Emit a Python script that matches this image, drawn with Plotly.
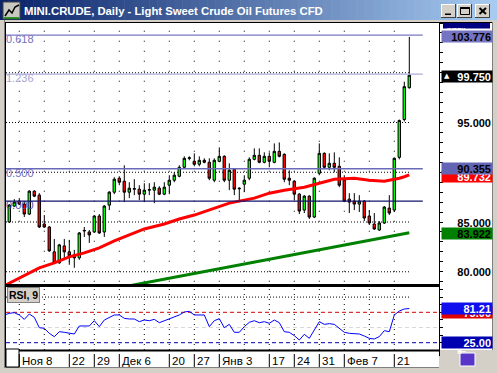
import plotly.graph_objects as go
import pandas as pd

W, H = 497, 373

# ---------------- data ----------------
dates = pd.bdate_range("2010-11-04", "2011-02-24")          # 81 daily sessions
bar_index = list(range(1, len(dates) + 1))

opens = [85.0, 86.6, 87.1, 86.8, 85.8, 88.1, 87.7, 84.8, 84.5, 82.0,
         80.9, 82.6, 82.0, 81.7, 81.4, 84.1, 84.0, 84.0, 85.6, 84.0,
         86.7, 88.0, 89.4, 89.1, 88.0, 88.3, 88.3, 87.8, 88.2, 88.2,
         88.4, 87.8, 88.7, 89.2, 89.6, 90.5, 91.4, 91.1, 90.8, 91.2,
         91.0, 89.2, 91.1, 91.6, 89.2, 90.3, 88.4, 88.8, 89.4, 91.3,
         91.7, 91.0, 91.6, 91.0, 92.1, 91.8, 89.4, 89.1, 87.8, 86.2,
         87.6, 85.5, 89.9, 91.9, 90.5, 90.9, 90.6, 89.2, 87.3, 87.1,
         86.8, 87.1, 85.6, 84.8, 84.2, 84.9, 86.4, 86.2, 91.5, 95.3,
         98.5]
highs = [86.8, 87.3, 87.4, 87.0, 88.2, 88.2, 87.9, 85.7, 84.6, 83.3,
         82.8, 83.3, 83.2, 82.2, 84.0, 84.5, 84.2, 85.7, 85.8, 86.7,
         88.1, 89.5, 89.6, 90.7, 89.0, 89.3, 88.7, 88.9, 88.9, 89.0,
         88.6, 89.0, 89.7, 90.0, 90.7, 91.6, 91.6, 91.9, 91.6, 91.4,
         91.4, 91.4, 92.5, 91.7, 90.9, 90.4, 88.5, 89.7, 91.5, 92.4,
         92.4, 92.0, 92.0, 92.9, 93.0, 91.9, 90.2, 89.2, 87.9, 87.7,
         87.7, 89.5, 92.9, 92.0, 91.9, 92.0, 91.5, 89.7, 87.9, 87.9,
         87.7, 87.2, 86.2, 85.9, 85.1, 86.6, 87.7, 91.5, 95.3, 99.1,
         103.6]
lows = [84.9, 86.5, 86.7, 85.5, 85.7, 87.5, 84.4, 84.4, 82.0, 80.8,
        80.8, 81.2, 80.7, 80.4, 81.2, 83.5, 82.9, 83.9, 83.8, 83.5,
        86.2, 87.8, 88.7, 87.0, 87.4, 87.7, 87.2, 87.0, 87.7, 86.9,
        87.7, 87.7, 87.8, 89.0, 89.5, 90.4, 91.2, 90.6, 90.6, 90.9,
        89.2, 89.0, 91.0, 89.0, 88.2, 87.7, 87.0, 88.0, 89.2, 91.2,
        90.9, 90.9, 90.5, 90.9, 91.5, 89.0, 88.7, 87.2, 85.8, 85.9,
        85.3, 85.4, 89.7, 90.3, 90.2, 90.0, 88.5, 87.0, 85.9, 86.2,
        86.0, 85.1, 84.7, 84.2, 84.1, 84.8, 85.7, 86.0, 91.3, 95.1,
        98.4]
closes = [86.7, 87.0, 86.8, 85.8, 88.1, 87.6, 84.5, 84.5, 82.1, 80.9,
          82.7, 82.0, 81.6, 81.4, 83.9, 84.15, 83.7, 85.6, 83.9, 86.6,
          88.0, 89.3, 89.0, 88.0, 88.4, 88.35, 87.8, 88.2, 88.25, 88.5,
          87.8, 88.5, 89.2, 89.7, 90.5, 91.4, 91.45, 90.8, 91.2, 91.0,
          89.4, 91.2, 91.6, 89.2, 90.2, 88.3, 88.35, 89.2, 91.3, 91.7,
          91.0, 91.6, 91.1, 92.1, 91.6, 89.3, 89.2, 87.8, 86.1, 87.6,
          85.5, 89.4, 91.9, 90.5, 90.9, 90.5, 88.7, 87.1, 87.0, 86.8,
          87.1, 85.4, 84.9, 84.3, 84.9, 86.5, 85.9, 91.4, 95.2, 98.6,
          99.75]

ma_index = [0, 3, 7, 10, 13, 16, 19, 22, 26, 28, 32, 35, 38, 42, 45,
            50, 53, 56, 60, 63, 66, 70, 73, 76, 78, 79, 80, 81]
ma_values = [78.6, 79.4, 80.4, 80.9, 81.5, 81.9, 82.4, 83.1, 83.9, 84.3,
             84.8, 85.3, 85.7, 86.4, 86.9, 87.4, 87.9, 88.2, 88.5, 88.9,
             89.3, 89.4, 89.2, 89.1, 89.25, 89.4, 89.55, 89.732]

trend_index = [23, 81]
trend_values = [78.40, 83.922]

rsi_index = list(range(0, 82))
rsi_values = [70.6, 73.3, 74.4, 70.6, 63.4, 72.2, 66.7, 49.7, 48.6, 40.4,
              34.9, 43.1, 42.1, 40.4, 39.3, 52.5, 53.0, 52.5, 61.2, 51.4,
              62.3, 66.7, 70.6, 70.6, 65.1, 64.0, 64.0, 59.6, 62.3, 61.2,
              63.4, 57.9, 61.2, 64.5, 67.3, 70.6, 75.5, 76.6, 70.6, 71.1,
              70.6, 51.4, 61.2, 64.5, 49.7, 55.2, 42.1, 42.1, 51.4, 58.5,
              61.2, 57.9, 59.6, 56.9, 62.3, 57.9, 43.1, 42.1, 36.6, 29.4,
              38.8, 32.2, 47.0, 59.6, 55.2, 56.3, 55.2, 48.6, 42.1, 40.4,
              40.4, 39.3, 36.0, 32.2, 31.1, 35.0, 44.8, 43.1, 70.6, 77.1,
              80.4, 81.21]
rsi_upper, rsi_mid, rsi_lower = 75.0, 50.0, 25.0

fib_labels = ["0.618", "1.236", "0.500", "0.000"]
fib_levels = [103.776, 99.87, 90.355, 87.10]

week_ticks = [3, 13, 18, 23, 33, 38, 43, 53, 58, 63, 68, 78]
week_labels = ["Ноя 8", "22", "29", "Дек 6", "20", "27", "Янв 3",
               "17", "24", "31", "Фев 7", "21"]
grid_weeks = list(range(3, 79, 5))

price_ticks = [80, 85, 95]
grid_prices = [80, 85, 90, 95, 100]

title_text = "MINI.CRUDE, Daily - Light Sweet Crude Oil Futures CFD"

# ---------------- geometry helpers ----------------
def px(x):
    return x / W

def py(y):
    return 1 - y / H

X_RANGE = [0.34, 86.94]
Y_RANGE = [78.67, 105.0]
R_RANGE = [13.0, 116.6]
GRAY = "#d4d0c8"
FONT = "Liberation Sans"

shapes = []
annotations = []

def prect(x0, y0, x1, y1, fill=None, line=None, lw=1, layer="above"):
    shapes.append(dict(type="rect", xref="paper", yref="paper",
                       x0=px(x0), x1=px(x1), y0=py(y1), y1=py(y0),
                       fillcolor=fill if fill else "rgba(0,0,0,0)",
                       line=dict(color=line if line else "rgba(0,0,0,0)", width=lw if line else 0),
                       layer=layer))

def pline(x0, y0, x1, y1, color="black", w=1, layer="above"):
    shapes.append(dict(type="line", xref="paper", yref="paper",
                       x0=px(x0), x1=px(x1), y0=py(y0), y1=py(y1),
                       line=dict(color=color, width=w), layer=layer))

# window background regions
prect(6, 23, 492, 350, fill="white", layer="below")
prect(19, 351, 439, 367, fill="white", layer="below")

# title bar gradient
n = 60
c0, c1 = (10, 36, 106), (166, 202, 240)
for i in range(n):
    t = i / (n - 1)
    col = "rgb(%d,%d,%d)" % tuple(int(a + (b - a) * t) for a, b in zip(c0, c1))
    prect(i * W / n, 0, (i + 1) * W / n + 0.5, 20, fill=col)

# icon
prect(3, 2, 20, 19, fill="#c8c8c0", line="#404040")
shapes.append(dict(type="path", xref="paper", yref="paper",
                   path="M %f %f L %f %f L %f %f L %f %f L %f %f" % (
                       px(5), py(16), px(9), py(10), px(12), py(13), px(15), py(7), px(19), py(5)),
                   line=dict(color="black", width=1.5)))
pline(4, 18, 19, 18, color="#008000", w=1.5)

# window buttons
for bx0, bx1 in [(441, 456), (457, 472), (475, 490)]:
    prect(bx0, 4, bx1, 18, fill=GRAY)
    pline(bx0, 4.5, bx1, 4.5, color="white")
    pline(bx0 + 0.5, 4, bx0 + 0.5, 18, color="white")
    pline(bx0, 17.5, bx1, 17.5, color="#404040")
    pline(bx1 - 0.5, 4, bx1 - 0.5, 18, color="#404040")
prect(445, 13.5, 451, 15, fill="black")
prect(460.5, 7.5, 469.5, 14.5, line="black", lw=1)
pline(460.5, 8, 469.5, 8, color="black", w=2)
pline(479.5, 8, 486, 14, color="black", w=2)
pline(479.5, 14, 486, 8, color="black", w=2)

# frame lines
pline(4.5, 20, 4.5, 368, color="#808080")
pline(5.5, 22, 5.5, 368, color="black")
pline(5, 22.5, 492, 22.5, color="black")
pline(492.5, 22, 492.5, 350, color="#808080")
prect(5, 284, 439, 287, fill="black")
pline(5, 350.5, 439, 350.5, color="black", w=2)
pline(439.5, 22, 439.5, 356, color="black")
pline(5, 367.5, 439, 367.5, color="#808080")
prect(6, 349, 19, 367, fill="white", line="black")

# INDEX header
prect(443, 23, 490, 28.5, fill="#000080")
annotations.append(dict(x=px(466), y=py(25.6), xref="paper", yref="paper", text="<b>INDEX</b>",
                        showarrow=False, font=dict(family=FONT, size=6, color="white"),
                        borderpad=0, height=6))

# bottom-right button
prect(460, 353, 475, 366, fill="#5a36c8", line="white")
annotations.append(dict(x=px(467.5), y=py(359.5), xref="paper", yref="paper", text="⇤",
                        showarrow=False, font=dict(family="DejaVu Sans", size=11, color="white")))

# ---------------- grid (only up to last bar) ----------------
last_bar = bar_index[-1]
for k in grid_weeks:
    shapes.append(dict(type="line", xref="x", yref="y", x0=k, x1=k, y0=79, y1=Y_RANGE[1],
                       line=dict(color="black", width=1, dash="1px,9px"), layer="below"))
    shapes.append(dict(type="line", xref="x2", yref="y2", x0=k, x1=k, y0=R_RANGE[0], y1=R_RANGE[1],
                       line=dict(color="black", width=1, dash="1px,4px"), layer="below"))
for p in grid_prices:
    shapes.append(dict(type="line", xref="x", yref="y", x0=X_RANGE[0], x1=last_bar, y0=p, y1=p,
                       line=dict(color="black", width=1, dash="1px,2px"), layer="below"))
shapes.append(dict(type="line", xref="x2", yref="y2", x0=X_RANGE[0], x1=last_bar, y0=100, y1=100,
                   line=dict(color="black", width=1, dash="1px,2px"), layer="below"))

# fib lines
fib_line_colors = ["#7878c0", "#ababda", "#6a6ab8", "#14146e"]
fib_text_colors = ["#7272b8", "#a6a6cc", "#7070bc", "#5050a8"]
for lvl, col in zip(fib_levels, fib_line_colors):
    shapes.append(dict(type="line", xref="x", yref="y", x0=X_RANGE[0], x1=83.7, y0=lvl, y1=lvl,
                       line=dict(color=col, width=1.3), layer="above"))

# RSI reference lines
shapes.append(dict(type="line", xref="x2", yref="y2", x0=X_RANGE[0], x1=X_RANGE[1], y0=rsi_mid, y1=rsi_mid,
                   line=dict(color="#d8d8d8", width=1, dash="4px,3px"), layer="below"))
shapes.append(dict(type="line", xref="x2", yref="y2", x0=X_RANGE[0], x1=X_RANGE[1], y0=rsi_upper, y1=rsi_upper,
                   line=dict(color="#d00000", width=1, dash="4px,3px"), layer="below"))
shapes.append(dict(type="line", xref="x2", yref="y2", x0=X_RANGE[0], x1=X_RANGE[1], y0=rsi_lower, y1=rsi_lower,
                   line=dict(color="#0000a8", width=1, dash="4px,3px"), layer="below"))

# ---------------- traces ----------------
fig = go.Figure()

for lab, lvl, col in zip(fib_labels, fib_levels, fib_text_colors):
    fig.add_trace(go.Scatter(x=[X_RANGE[0]], y=[lvl], mode="text", text=[lab],
                             textposition="bottom right", textfont=dict(family=FONT, size=11, color=col),
                             hoverinfo="skip", showlegend=False, xaxis="x", yaxis="y"))

fig.add_trace(go.Candlestick(x=bar_index, open=opens, high=highs, low=lows, close=closes,
                             increasing=dict(line=dict(color="black", width=1), fillcolor="#00ff00"),
                             decreasing=dict(line=dict(color="black", width=1), fillcolor="#ff0000"),
                             whiskerwidth=0, showlegend=False, xaxis="x", yaxis="y"))

fig.add_trace(go.Scatter(x=ma_index, y=ma_values, mode="lines",
                         line=dict(color="#ff0000", width=3), showlegend=False, xaxis="x", yaxis="y"))
fig.add_trace(go.Scatter(x=trend_index, y=trend_values, mode="lines",
                         line=dict(color="#008000", width=3), showlegend=False, xaxis="x", yaxis="y"))

fig.add_trace(go.Scatter(x=rsi_index, y=rsi_values, mode="lines",
                         line=dict(color="#0000ff", width=1), showlegend=False, xaxis="x2", yaxis="y2"))

# ---------------- axis labels (right side) ----------------
def rlabel(val, yref, text, bg=None, fg="black", yshift=0):
    d = dict(x=px(441), xref="paper", xanchor="left", y=val, yref=yref, yanchor="middle",
             text="<b>%s</b>" % text, showarrow=False, width=48, height=9, align="right",
             font=dict(family=FONT, size=11, color=fg), borderpad=1, yshift=yshift)
    if bg:
        d["bgcolor"] = bg
    annotations.append(d)

for p in price_ticks:
    rlabel(p, "y", "%.3f" % p)
rlabel(103.776, "y", "103.776", bg="#7474c2", fg="black", yshift=-1)
rlabel(closes[-1], "y", "%.3f" % closes[-1], bg="black", fg="white", yshift=-1)
annotations.append(dict(x=px(442), xref="paper", xanchor="left", y=closes[-1], yref="y", yshift=-1,
                        text="▲", showarrow=False, font=dict(family="DejaVu Sans", size=7, color="white")))
rlabel(ma_values[-1], "y", "%.3f" % ma_values[-1], bg="#ff0000", fg="white", yshift=-2)
rlabel(90.355, "y", "90.355", bg="#6464b4", fg="black")
rlabel(trend_values[-1], "y", "%.3f" % trend_values[-1], bg="#008000", fg="black", yshift=-1)

rlabel(rsi_upper, "y2", "%.2f" % rsi_upper, bg="#e00000", fg="white")
rlabel(rsi_values[-1], "y2", "%.2f" % rsi_values[-1], bg="#1010ee", fg="white")
rlabel(rsi_lower, "y2", "%.2f" % rsi_lower, bg="#0000b0", fg="white")

# date labels & separators
for k, lab in zip(week_ticks, week_labels):
    annotations.append(dict(x=k, xref="x", xanchor="left", xshift=1, y=py(361), yref="paper",
                            yanchor="middle", text=lab, showarrow=False,
                            font=dict(family=FONT, size=11.5, color="black")))
    shapes.append(dict(type="line", xref="x", yref="paper", x0=k, x1=k, y0=py(367), y1=py(354),
                       line=dict(color="black", width=1)))

# title & RSI caption
annotations.append(dict(x=px(22), y=py(10.5), xref="paper", yref="paper", xanchor="left", yanchor="middle",
                        text="<b>%s</b>" % title_text, showarrow=False,
                        font=dict(family=FONT, size=11.3, color="white")))
annotations.append(dict(x=px(7), y=py(294.5), xref="paper", yref="paper", xanchor="left", yanchor="middle",
                        text="<b>RSI, 9</b>", showarrow=False, bgcolor=GRAY, bordercolor="#808080",
                        borderwidth=1, borderpad=1, font=dict(family=FONT, size=10.5, color="black")))

# ---------------- layout ----------------
fig.update_layout(
    width=W, height=H, margin=dict(l=0, r=0, t=0, b=0),
    paper_bgcolor=GRAY, plot_bgcolor="white",
    showlegend=False, hovermode=False,
    shapes=shapes, annotations=annotations,
    xaxis=dict(domain=[px(6), px(439)], range=X_RANGE, showgrid=False, zeroline=False,
               showticklabels=False, ticks="", rangeslider=dict(visible=False), anchor="y"),
    yaxis=dict(domain=[py(285), py(23)], range=Y_RANGE, side="right", showgrid=False, zeroline=False,
               showticklabels=False, ticks="outside", ticklen=3, tickcolor="black", dtick=1, tick0=0,
               showline=False, anchor="x"),
    xaxis2=dict(domain=[px(6), px(439)], range=X_RANGE, showgrid=False, zeroline=False,
                showticklabels=False, ticks="", anchor="y2", matches="x"),
    yaxis2=dict(domain=[py(350), py(287)], range=R_RANGE, side="right", showgrid=False, zeroline=False,
                showticklabels=False, ticks="outside", ticklen=3, tickcolor="black", dtick=12.5, tick0=0,
                anchor="x2"),
)

fig.write_html("out.html", config={"displayModeBar": False},
               post_script="document.body.style.margin='0';document.body.style.overflow='hidden';")
